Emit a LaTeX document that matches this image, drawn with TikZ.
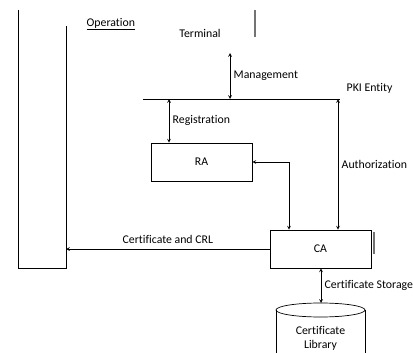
\documentclass[tikz,border=0pt]{standalone}
\usepackage{fontspec}
\setmainfont{Carlito}[Ligatures=NoCommon]
\usetikzlibrary{arrows}

\begin{document}
\begin{tikzpicture}[x=1pt, y=-1pt, font=\fontsize{11.8}{13}\selectfont, line width=0.7pt]
    \tikzset{box/.style={draw, minimum width=101pt, minimum height=38pt, inner sep=0pt}}
    \useasboundingbox (0,0) rectangle (413,353);
    \clip (0,0) rectangle (413,353);
    % operation column
    \coordinate (OpTL) at (18,10);
    \coordinate (OpBL) at (18,268);
    \coordinate (OpBR) at (66,268);
    \coordinate (OpTR) at (66,26);
    \draw (OpTL) -- (OpBL) -- (OpBR) -- (OpTR);
    \node [anchor=west] (op) at (83,24) {\underline{Operation}};
    \node (term) at (200,33) {Terminal};
    \draw [line width=2.2pt, color=black!55] (255,10) -- (255,37);
    % PKI entity line
    \coordinate (PL) at (143,99);
    \coordinate (PR) at (340,99);
    \draw (PL) -- (PR);
    \node [anchor=west] (pki) at (343,88) {PKI Entity};
    \coordinate (TermB) at (230,53);
    \coordinate (MgmtB) at (230,99);
    \draw [<->, >=stealth] (TermB) -- (MgmtB) node [midway, right] {Management};
    % boxes
    \node [box] (RA) at (201.5,162) {RA};
    \node [box] (CA) at (320.5,249) {CA};
    \draw [line width=2.2pt, color=black!55] (374,232) -- (374,254);
    \coordinate (RegT) at (169,99);
    \draw [<->, >=stealth] (RegT) -- (RegT |- RA.north) node [midway, right] {Registration};
    \coordinate (RaCa) at (289,162);
    \draw [<->, >=stealth] (RA.east) -- (RaCa) -- (RaCa |- CA.north);
    \coordinate (AuthT) at (338,99);
    \draw [<->, >=stealth] (AuthT) -- (AuthT |- CA.north) node [midway, right] {Authorization};
    \draw [->, >=stealth] (CA.west) -- (OpBR |- CA.west) node [midway, above=2pt] {Certificate and CRL};
    % certificate library
    \coordinate (LibT) at (321,303);
    \draw [<->, >=stealth] (CA.south -| LibT) -- (LibT) node [midway, right] {Certificate Storage};
    \draw (276,310) -- (276,370) (365,310) -- (365,370);
    \draw (320.5,310) ellipse (44.5pt and 7pt);
    \node [align=center, font=\fontsize{11.8}{14}\selectfont] (lib) at (320.5,338) {Certificate\\Library};
\end{tikzpicture}
\end{document}
